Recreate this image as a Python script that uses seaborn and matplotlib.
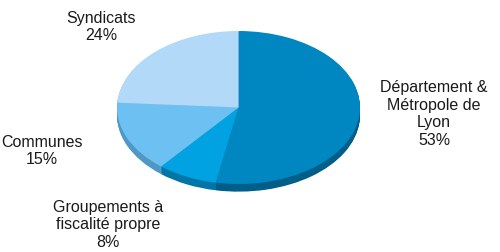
import matplotlib
matplotlib.use('Agg')
import matplotlib.pyplot as plt
import seaborn as sns
import numpy as np

# données (ordre horaire à partir du haut)
categories = ['Département &\nMétropole de\nLyon', 'Groupements à\nfiscalité propre', 'Communes', 'Syndicats']
values = [53, 8, 15, 24]
colors = ['#0087C1', '#00A2E2', '#6CC1F2', '#B2D9F7']
rim_colors = ['#005E88', '#0076A6', '#4F98C4', '#86AFCF']

sns.set_theme(style='white')
plt.rcParams['font.family'] = ['Liberation Sans', 'DejaVu Sans']

fig = plt.figure(figsize=(5, 2.53), dpi=100)
ax = fig.add_axes([0, 0, 1, 1])

# épaisseur 3D : pies empilées vers le bas
for off in np.linspace(-0.1, -0.01, 10):
    ax.pie(values, colors=rim_colors, startangle=90, counterclock=False,
           center=(0, off), radius=1, wedgeprops=dict(linewidth=0))
ax.pie(values, colors=colors, startangle=90, counterclock=False,
       center=(0, 0), radius=1, wedgeprops=dict(linewidth=0))

# axes en coordonnées "pixel" -> ellipse
cx, cy, rx, ry = 238.5, 108.5, 121.5, 76.5
ax.set_aspect('auto')
ax.set_xlim(-cx / rx, (500 - cx) / rx)
ax.set_ylim(-(253 - cy) / ry, cy / ry)
ax.axis('off')

# étiquettes
label_pos = [(434, 114), (108, 225), (42, 151), (101, 27)]
for cat, v, (px, py) in zip(categories, values, label_pos):
    ax.text((px - cx) / rx, (cy - py) / ry, f'{cat}\n{v}%', ha='center', va='center',
            fontsize=11.5, color='#1a1a1a', linespacing=1.22)

fig.savefig('out.png', dpi=100)
